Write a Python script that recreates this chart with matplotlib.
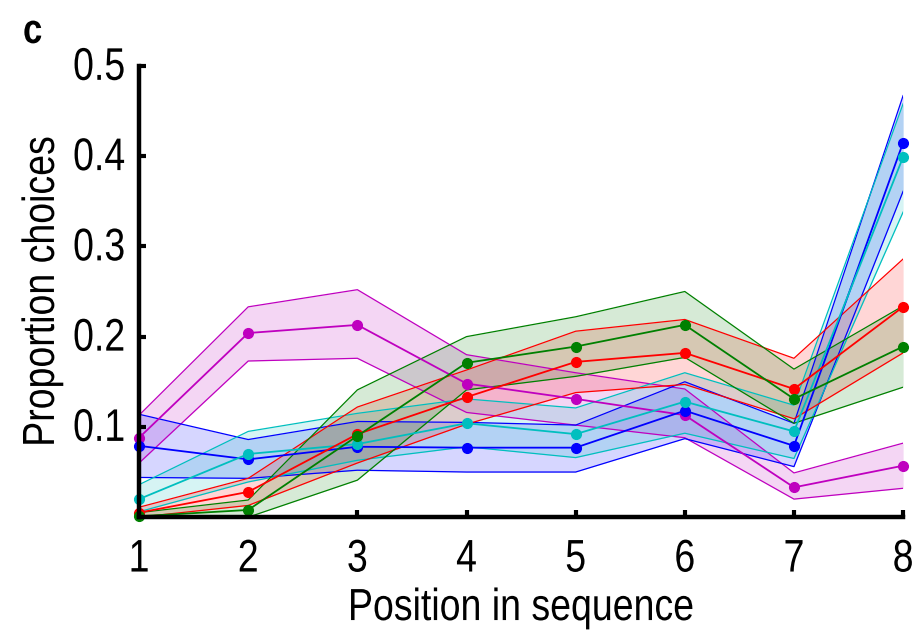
import matplotlib
matplotlib.use('Agg')
import matplotlib.pyplot as plt
from matplotlib import font_manager
from matplotlib.patheffects import AbstractPathEffect
from matplotlib.transforms import Affine2D

# positions in sequence
positions = [1, 2, 3, 4, 5, 6, 7, 8]

# mean proportion of choices per series, with lower/upper band edges
magenta_mean = [0.088, 0.204, 0.213, 0.148, 0.131, 0.113, 0.033, 0.057]
magenta_low = [0.060, 0.173, 0.176, 0.116, 0.102, 0.088, 0.020, 0.032]
magenta_high = [0.113, 0.233, 0.252, 0.180, 0.160, 0.142, 0.049, 0.082]

blue_mean = [0.079, 0.064, 0.078, 0.077, 0.077, 0.118, 0.079, 0.415]
blue_low = [0.044, 0.043, 0.052, 0.050, 0.050, 0.087, 0.056, 0.361]
blue_high = [0.114, 0.086, 0.106, 0.105, 0.102, 0.150, 0.104, 0.467]

cyan_mean = [0.020, 0.070, 0.081, 0.104, 0.092, 0.128, 0.095, 0.399]
cyan_low = [0.006, 0.039, 0.063, 0.078, 0.066, 0.093, 0.065, 0.338]
cyan_high = [0.036, 0.095, 0.115, 0.131, 0.121, 0.160, 0.124, 0.458]

red_mean = [0.005, 0.028, 0.092, 0.133, 0.172, 0.182, 0.142, 0.233]
red_low = [0.000, 0.013, 0.060, 0.103, 0.138, 0.147, 0.109, 0.182]
red_high = [0.011, 0.043, 0.122, 0.163, 0.206, 0.219, 0.176, 0.286]

green_mean = [0.001, 0.008, 0.090, 0.171, 0.189, 0.213, 0.131, 0.189]
green_low = [0.000, 0.000, 0.041, 0.141, 0.156, 0.177, 0.104, 0.144]
green_high = [0.005, 0.019, 0.141, 0.200, 0.222, 0.250, 0.164, 0.234]

y_ticks = [0.1, 0.2, 0.3, 0.4, 0.5]
y_tick_labels = ['0.1', '0.2', '0.3', '0.4', '0.5']

series = [
    (magenta_mean, magenta_low, magenta_high, '#bf00bf'),
    (blue_mean, blue_low, blue_high, '#0000ff'),
    (cyan_mean, cyan_low, cyan_high, '#00bfbf'),
    (red_mean, red_low, red_high, '#ff0000'),
    (green_mean, green_low, green_high, '#008000'),
]


class Stretch(AbstractPathEffect):
    # stretch glyphs upward from the baseline to mimic a condensed face
    def __init__(self, sy):
        super().__init__()
        self.sy = sy

    def draw_path(self, renderer, gc, tpath, affine, rgbFace=None):
        renderer.draw_path(gc, tpath, Affine2D().scale(1, self.sy) + affine, rgbFace)


names = {f.name for f in font_manager.fontManager.ttflist}
family = 'Liberation Sans Narrow' if 'Liberation Sans Narrow' in names else 'Liberation Sans'
plt.rcParams['font.family'] = [family, 'DejaVu Sans']

fig = plt.figure(figsize=(9.15, 6.33), dpi=100)
ax = fig.add_axes([0.152, 0.183, 0.835, 0.713])

for mean, low, high, color in series:
    ax.fill_between(positions, low, high, color=color, alpha=0.16, linewidth=0)
    ax.plot(positions, low, color=color, linewidth=0.9)
    ax.plot(positions, high, color=color, linewidth=0.9)
for mean, low, high, color in series:
    ax.plot(positions, mean, color=color, linewidth=1.3, marker='o',
            markersize=7, clip_on=False)

ax.set_xlim(1, 8)
ax.set_ylim(0, 0.5)
ax.set_xticks(positions)
ax.set_yticks(y_ticks)
ax.set_yticklabels(y_tick_labels)
ax.spines['top'].set_visible(False)
ax.spines['right'].set_visible(False)
ax.spines['left'].set_linewidth(3.2)
ax.spines['bottom'].set_linewidth(3.2)
ax.tick_params(direction='in', length=5, width=3, labelsize=27)
ax.tick_params(axis='x', pad=19)
ax.tick_params(axis='y', pad=10)
for lbl in ax.get_xticklabels() + ax.get_yticklabels():
    lbl.set_path_effects([Stretch(1.22)])

ax.set_xlabel('Position in sequence', fontsize=27)
ax.xaxis.label.set_va('baseline')
ax.xaxis.set_label_coords(0.5, -0.228)
ax.xaxis.label.set_path_effects([Stretch(1.2)])
ax.set_ylabel('Proportion choices', fontsize=27, labelpad=8)
ax.yaxis.label.set_path_effects([Stretch(1.2)])

fig.text(23 / 915, 1 - 43 / 633, 'c', fontsize=25, fontweight='bold',
         va='baseline', path_effects=[Stretch(1.2)])

fig.savefig('out.png', dpi=100)
